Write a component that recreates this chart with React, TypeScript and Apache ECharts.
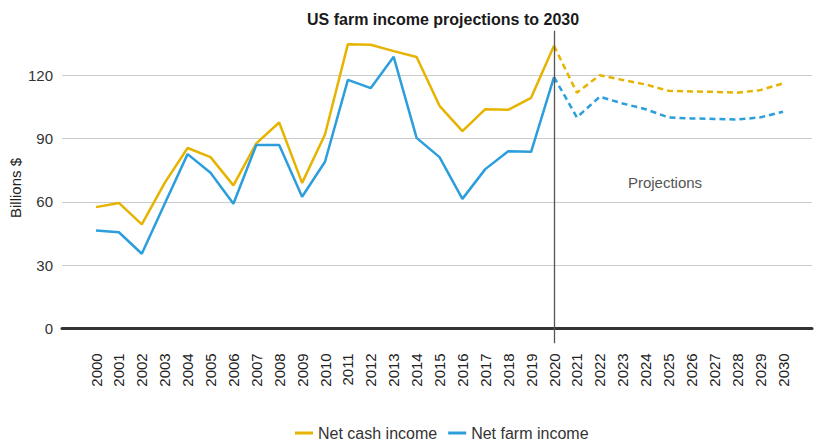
import React, { useEffect, useRef } from "react";
import * as echarts from "echarts";

const years = ["2000","2001","2002","2003","2004","2005","2006","2007","2008","2009","2010","2011","2012","2013","2014","2015","2016","2017","2018","2019","2020","2021","2022","2023","2024","2025","2026","2027","2028","2029","2030"];
const projectionStart = "2020";

const cashHist = [57.5, 59.5, 49.3, 69.0, 85.5, 81.2, 67.8, 87.7, 97.6, 69.0, 91.9, 134.7, 134.4, 131.4, 128.6, 105.5, 93.5, 103.9, 103.6, 109.3, 133.9];
const cashProj = [133.9, 111.7, 120.0, 117.7, 115.6, 112.6, 112.3, 112.1, 111.7, 112.9, 116.1];
const farmHist = [46.4, 45.6, 35.4, 59.1, 82.6, 73.8, 59.1, 86.9, 86.9, 62.4, 79.0, 117.8, 113.9, 128.7, 90.3, 81.2, 61.4, 75.5, 84.0, 83.7, 119.1];
const farmProj = [119.1, 100.0, 109.8, 106.6, 103.9, 100.0, 99.5, 99.3, 99.0, 100.0, 102.7];

const yTicks = [0, 30, 60, 90, 120];

const CASH = "#E6B400";
const FARM = "#2B9EDB";
const FONT = "'Liberation Sans', Arial, sans-serif";

function padHist(v: number[]) {
  const out: (number | null)[] = years.map(() => null);
  v.forEach((x, i) => (out[i] = x));
  return out;
}
function padProj(v: number[]) {
  const start = years.indexOf(projectionStart);
  const out: (number | null)[] = years.map(() => null);
  v.forEach((x, i) => (out[start + i] = x));
  return out;
}

export default function App() {
  const ref = useRef<HTMLDivElement>(null);
  useEffect(() => {
    if (!ref.current) return;
    const chart = echarts.init(ref.current, null, { renderer: "svg" });
    const step = yTicks[1] - yTicks[0];
    const option: any = {
      animation: false,
      textStyle: { fontFamily: FONT },
      title: {
        text: "US farm income projections to 2030",
        left: 302,
        top: 6,
        textStyle: { fontFamily: FONT, fontSize: 16, fontWeight: "bold", color: "#1a1a1a" },
      },
      legend: {
        top: 420,
        left: 290,
        icon: "rect",
        itemWidth: 18,
        itemHeight: 3,
        itemGap: 11,
        data: ["Net cash income", "Net farm income"],
        textStyle: { fontFamily: FONT, fontSize: 16, color: "#333" },
      },
      grid: [
        { left: 84.55, right: 19.55, top: 30.85, bottom: 97.72 },
        { left: 62, right: 2, top: 11.85, bottom: 112.5 },
      ],
      xAxis: [
        {
          type: "category",
          gridIndex: 0,
          data: years,
          boundaryGap: true,
          axisLine: { show: false, onZero: false },
          axisTick: { show: false },
          splitLine: { show: false },
          axisLabel: {
            rotate: 90,
            interval: 0,
            margin: 10,
            fontSize: 15,
            color: "#222",
            fontFamily: FONT,
          },
        },
        {
          type: "value",
          gridIndex: 1,
          min: 0,
          max: 1,
          axisLine: { show: true, onZero: false, lineStyle: { color: "#333", width: 3 } },
          axisTick: { show: false },
          axisLabel: { show: false },
          splitLine: { show: false },
        },
      ],
      yAxis: [
        {
          type: "value",
          gridIndex: 0,
          min: -7,
          max: 141,
          axisLine: { show: false },
          axisTick: { show: false },
          axisLabel: { show: false },
          splitLine: { show: false },
        },
        {
          type: "value",
          gridIndex: 1,
          min: yTicks[0],
          max: yTicks[yTicks.length - 1] + step,
          interval: step,
          axisLine: { show: false },
          axisTick: { show: false },
          axisLabel: {
            showMaxLabel: false,
            margin: 9,
            fontSize: 15,
            color: "#333",
            fontFamily: FONT,
            formatter: (v: number) => (yTicks.includes(v) ? String(v) : ""),
          },
          splitLine: {
            show: true,
            showMaxLine: false,
            lineStyle: { color: ["#cccccc", "#cccccc", "#cccccc", "#cccccc", "#cccccc", "transparent"], width: 1.2 },
          },
        },
      ],
      series: [
        {
          name: "Net cash income",
          type: "line",
          xAxisIndex: 0,
          yAxisIndex: 0,
          data: padHist(cashHist),
          symbol: "none",
          lineStyle: { color: CASH, width: 2.5 },
          itemStyle: { color: CASH },
          z: 3,
          markLine: {
            silent: true,
            symbol: "none",
            label: { show: false },
            lineStyle: { color: "#555", width: 1.3, type: "solid" },
            data: [{ xAxis: projectionStart }],
          },
        },
        {
          name: "Net farm income",
          type: "line",
          xAxisIndex: 0,
          yAxisIndex: 0,
          data: padHist(farmHist),
          symbol: "none",
          lineStyle: { color: FARM, width: 2.5 },
          itemStyle: { color: FARM },
          z: 3,
        },
        {
          name: "Net cash income",
          type: "line",
          xAxisIndex: 0,
          yAxisIndex: 0,
          data: padProj(cashProj),
          symbol: "none",
          lineStyle: { color: CASH, width: 2.5, type: [6, 4] },
          itemStyle: { color: CASH },
          z: 3,
        },
        {
          name: "Net farm income",
          type: "line",
          xAxisIndex: 0,
          yAxisIndex: 0,
          data: padProj(farmProj),
          symbol: "none",
          lineStyle: { color: FARM, width: 2.5, type: [6, 4] },
          itemStyle: { color: FARM },
          z: 3,
        },
      ],
      graphic: [
        {
          type: "text",
          x: 15,
          y: 188,
          rotation: Math.PI / 2,
          style: {
            text: "Billions $",
            fontFamily: FONT,
            fontSize: 15,
            fill: "#222",
            align: "center",
            verticalAlign: "middle",
          },
        },
        {
          type: "text",
          x: 665,
          y: 182,
          style: {
            text: "Projections",
            fontFamily: FONT,
            fontSize: 15,
            fill: "#555",
            align: "center",
            verticalAlign: "middle",
          },
        },
      ],
    };
    chart.setOption(option);
    return () => chart.dispose();
  }, []);
  return (
    <div
      ref={ref}
      style={{ position: "absolute", left: 0, top: 0, width: 814, height: 441, background: "#fff" }}
    />
  );
}
